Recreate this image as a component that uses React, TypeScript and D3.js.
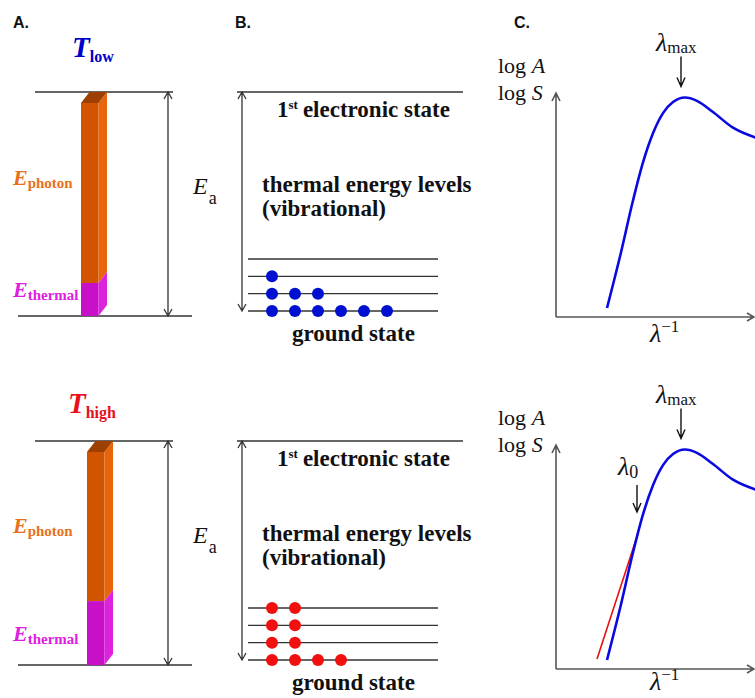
import * as d3 from 'd3';

// ---- data ----
const temps = ['low', 'high'];
const tempColors = ['#0000cc', '#e8101a'];
const thermalFraction = [0.155, 0.3]; // share of Ea supplied thermally
const barLeft = [81, 87];
const populationsLow = [6, 3, 1, 0]; // ground state first
const populationsHigh = [4, 2, 2, 2];
const levelIndex = [0, 1, 2, 3];

const curveX = [25.5, 32, 38.5, 43.5, 48.5, 53.5, 58.5, 64.5, 70.5, 78.5, 88.5, 100];
const curveY = [4, 27, 52, 69, 82, 91, 96, 98, 96.5, 91.5, 84.5, 80];
const tangentX = [20.5, 41];
const tangentY = [4.5, 60.5];
const lambdaMaxX = 62.5;
const lambda0X = 40.5;

// row offsets for the two temperature cases
const rowAB = [0, 349];
const rowC = [0, 352];

const serif = '"Liberation Serif", "Times New Roman", serif';
const sans = '"Liberation Sans", Arial, sans-serif';
const lineCol = '#333';
const axisCol = '#555';
const orange = '#e8701a';
const magenta = '#e020e0';

function dblArrow(x: number, y1: number, y2: number) {
  return `M${x},${y1}V${y2}M${x - 4},${y1 + 7}L${x},${y1}L${x + 4},${y1 + 7}M${x - 4},${y2 - 7}L${x},${y2}L${x + 4},${y2 - 7}`;
}

function downArrow(x: number, y1: number, y2: number) {
  return `M${x},${y1}V${y2}M${x - 4},${y2 - 9}L${x},${y2}L${x + 4},${y2 - 9}`;
}

function PanelA({ row }: { row: number }) {
  const oy = rowAB[row];
  const top = 92 + oy;
  const bottom = 316 + oy;
  const dx = 8.5;
  const dy = 11;
  const frontTop = top + dy;
  const energy = d3.scaleLinear().domain([0, 1]).range([bottom, frontTop]);
  const x0 = barLeft[row];
  const x1 = x0 + 17.5;
  const yb = energy(thermalFraction[row]);
  const sub = temps[row];
  return (
    <g>
      <text x={row === 0 ? 72 : 68} y={row === 0 ? 57 : 413} fontFamily={serif} fontWeight="bold" fill={tempColors[row]}>
        <tspan fontStyle="italic" fontSize={29}>T</tspan>
        <tspan fontSize={16} dy={5}>{sub}</tspan>
      </text>
      <line x1={35} x2={173} y1={top} y2={top} stroke={lineCol} strokeWidth={1.3} />
      <line x1={18} x2={192} y1={bottom} y2={bottom} stroke={lineCol} strokeWidth={1.3} />
      {/* photon part */}
      <rect x={x0} y={frontTop} width={x1 - x0} height={yb - frontTop} fill="#d35400" />
      <path d={`M${x1},${frontTop}L${x1 + dx},${top}L${x1 + dx},${yb - dy}L${x1},${yb}Z`} fill="#e8650c" />
      <path d={`M${x0},${frontTop}L${x0 + dx},${top}L${x1 + dx},${top}L${x1},${frontTop}Z`} fill="#9c3f00" />
      {/* thermal part */}
      <rect x={x0} y={yb} width={x1 - x0} height={bottom - yb} fill="#c810c8" />
      <path d={`M${x1},${yb}L${x1 + dx},${yb - dy}L${x1 + dx},${bottom - dy}L${x1},${bottom}Z`} fill="#dc22dc" />
      <path d={dblArrow(168, top, bottom)} stroke={lineCol} strokeWidth={1.3} fill="none" />
      <text x={13} y={row === 0 ? 185 : 533} fontFamily={serif} fontWeight="bold" fill={orange}>
        <tspan fontStyle="italic" fontSize={22}>E</tspan>
        <tspan fontSize={15} dy={3}>photon</tspan>
      </text>
      <text x={13} y={row === 0 ? 297 : 641} fontFamily={serif} fontWeight="bold" fill={magenta}>
        <tspan fontStyle="italic" fontSize={22}>E</tspan>
        <tspan fontSize={15} dy={3}>thermal</tspan>
      </text>
      <text x={193} y={194 + oy} fontFamily={serif} fill="#111">
        <tspan fontStyle="italic" fontSize={24}>E</tspan>
        <tspan fontSize={18} dx={1} dy={10}>a</tspan>
      </text>
    </g>
  );
}

function PanelB({ row }: { row: number }) {
  const oy = rowAB[row];
  const top = 92 + oy;
  const levelY = d3.scaleLinear().domain([0, 3]).range([311 + oy, 259 + oy]);
  const dotX = d3.scaleLinear().domain([0, 5]).range([272, 387]);
  const pops = row === 0 ? populationsLow : populationsHigh;
  const col = row === 0 ? '#0010d0' : '#f01010';
  return (
    <g>
      <line x1={237} x2={463} y1={top} y2={top} stroke={lineCol} strokeWidth={1.3} />
      <path d={dblArrow(242, top, levelY(0))} stroke={lineCol} strokeWidth={1.3} fill="none" />
      {levelIndex.map((i) => (
        <line key={i} x1={248} x2={438} y1={levelY(i)} y2={levelY(i)} stroke={lineCol} strokeWidth={1.3} />
      ))}
      {levelIndex.map((i) =>
        d3.range(pops[i]).map((k) => (
          <circle key={`${i}-${k}`} cx={dotX(k)} cy={levelY(i)} r={6} fill={col} />
        ))
      )}
      <text x={277} y={117 + oy} fontFamily={serif} fontWeight="bold" fontSize={23} fill="#111">
        <tspan>1</tspan>
        <tspan fontSize={13} dy={-8}>st</tspan>
        <tspan dx={5} dy={8}>electronic state</tspan>
      </text>
      <text x={262} y={192 + oy} fontFamily={serif} fontWeight="bold" fontSize={23} fill="#111">thermal energy levels</text>
      <text x={262} y={216 + oy} fontFamily={serif} fontWeight="bold" fontSize={23} fill="#111">(vibrational)</text>
      <text x={292} y={341 + oy} fontFamily={serif} fontWeight="bold" fontSize={23} fill="#111">ground state</text>
    </g>
  );
}

function PanelC({ row }: { row: number }) {
  const oy = rowC[row];
  const xs = d3.scaleLinear().domain([0, 100]).range([556, 756]);
  const ys = d3.scaleLinear().domain([0, 100]).range([317 + oy, 93 + oy]);
  const pts = curveX.map((x, i) => [x, curveY[i]] as [number, number]);
  const line = d3.line<[number, number]>().x((d) => xs(d[0])).y((d) => ys(d[1])).curve(d3.curveMonotoneX);
  const peak = d3.max(curveY) as number;
  const x0 = xs(0);
  const y0 = ys(0);
  const yTop = ys(100);
  const lm = xs(lambdaMaxX);
  return (
    <g>
      <path d={`M${x0},${y0}V${yTop}M${x0 - 4},${yTop + 8}L${x0},${yTop}L${x0 + 4},${yTop + 8}`} stroke={axisCol} strokeWidth={1.6} fill="none" />
      <path d={`M${x0},${y0}H${754}M${747},${y0 - 4}L${754},${y0}L${747},${y0 + 4}`} stroke={axisCol} strokeWidth={1.6} fill="none" />
      {row === 1 && (
        <line x1={xs(tangentX[0])} y1={ys(tangentY[0])} x2={xs(tangentX[1])} y2={ys(tangentY[1])} stroke="#e81010" strokeWidth={1.6} />
      )}
      <path d={line(pts) ?? ''} stroke="#0a0ae0" strokeWidth={2.6} fill="none" />
      <path d={downArrow(lm, ys(peak) - 41, ys(peak) - 11)} stroke="#111" strokeWidth={1.4} fill="none" />
      <text x={656} y={51 + oy} fontFamily={serif} fill="#111">
        <tspan fontStyle="italic" fontSize={26}>λ</tspan>
        <tspan fontSize={17} dy={2}>max</tspan>
      </text>
      {row === 1 && (
        <g>
          <path d={downArrow(xs(lambda0X), 485 , 512)} stroke="#111" strokeWidth={1.4} fill="none" />
          <text x={618} y={475} fontFamily={serif} fill="#111">
            <tspan fontStyle="italic" fontSize={26}>λ</tspan>
            <tspan fontSize={18} dy={3}>0</tspan>
          </text>
        </g>
      )}
      <text x={498} y={73 + oy} fontFamily={serif} fontSize={22} fill="#111">
        log <tspan fontStyle="italic">A</tspan>
      </text>
      <text x={498} y={100 + oy} fontFamily={serif} fontSize={22} fill="#111">
        log <tspan fontStyle="italic">S</tspan>
      </text>
      <text x={650} y={row === 0 ? 342 : 690} fontFamily={serif} fill="#111">
        <tspan fontStyle="italic" fontSize={26}>λ</tspan>
        <tspan fontSize={17} dy={-10}>−1</tspan>
      </text>
    </g>
  );
}

export default function App() {
  return (
    <svg width={755} height={698} style={{ position: 'absolute', left: 0, top: 0, background: '#fff' }}>
      <rect width={755} height={698} fill="#fff" />
      <text x={13} y={28} fontFamily={sans} fontWeight="bold" fontSize={16} fill="#111">A.</text>
      <text x={235} y={28} fontFamily={sans} fontWeight="bold" fontSize={16} fill="#111">B.</text>
      <text x={514} y={28} fontFamily={sans} fontWeight="bold" fontSize={16} fill="#111">C.</text>
      {[0, 1].map((r) => (
        <g key={r}>
          <PanelA row={r} />
          <PanelB row={r} />
          <PanelC row={r} />
        </g>
      ))}
    </svg>
  );
}
